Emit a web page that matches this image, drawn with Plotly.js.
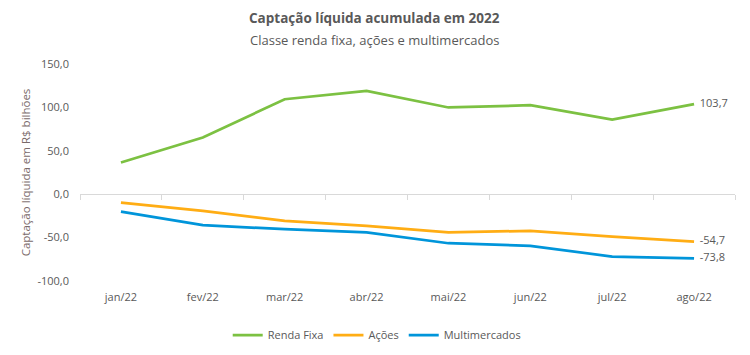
<!DOCTYPE html>
<html><head><meta charset="utf-8">
<script src="https://cdn.plot.ly/plotly-3.0.1.min.js"></script>
<style>body{margin:0;padding:0;background:#fff}#chart{width:750px;height:355px}</style>
</head><body><div id="chart"></div>
<script>
const months = ["jan/22","fev/22","mar/22","abr/22","mai/22","jun/22","jul/22","ago/22"];
const rendaFixa = [36.5, 65.3, 109.4, 119.0, 99.9, 102.5, 86.0, 103.7];
const acoes = [-9.6, -19.2, -30.7, -36.5, -44.0, -42.2, -48.8, -54.7];
const multimercados = [-20.0, -35.7, -40.3, -44.0, -56.5, -59.5, -71.8, -73.8];
const yTickVals = [-100, -50, 0, 50, 100, 150];

const fmt = v => v.toFixed(1).replace('.', ',');
const lastLabel = arr => arr.map((v, i) => i === arr.length - 1 ? '\u00a0\u00a0' + fmt(v) : '');
const FONT = "Open Sans, Lato, sans-serif";
const GRAY = "#595959";

function series(name, y, color) {
  return {
    x: months, y: y, name: name, type: 'scatter', mode: 'lines+text',
    line: {color: color, width: 2.75},
    text: lastLabel(y), textposition: 'middle right',
    textfont: {family: FONT, size: 11, color: GRAY},
    cliponaxis: false, hoverinfo: 'x+y'
  };
}

const data = [
  series('Renda Fixa', rendaFixa, '#7CC142'),
  series('Ações', acoes, '#FFAD14'),
  series('Multimercados', multimercados, '#0095DA'),
  {x: months, y: [0], xaxis: 'x2', yaxis: 'y', type: 'scatter', mode: 'markers',
   marker: {opacity: 0}, showlegend: false, hoverinfo: 'skip'}
];

const yMin = -100, yMax = 150;
const layout = {
  width: 750, height: 355,
  margin: {l: 80, r: 15, t: 64, b: 74, autoexpand: false},
  paper_bgcolor: '#fff', plot_bgcolor: '#fff',
  font: {family: FONT, color: GRAY, size: 11},
  annotations: [
    {text: '<b>Captação líquida acumulada em 2022</b>', xref: 'paper', yref: 'paper',
     x: 0.45, y: 1, yshift: 46, xanchor: 'center', yanchor: 'middle', showarrow: false,
     font: {family: FONT, size: 13.5, color: GRAY}},
    {text: 'Classe renda fixa, ações e multimercados', xref: 'paper', yref: 'paper',
     x: 0.45, y: 1, yshift: 24, xanchor: 'center', yanchor: 'middle', showarrow: false,
     font: {family: FONT, size: 13, color: GRAY}}
  ],
  xaxis: {
    type: 'category', showline: false, showgrid: false, zeroline: false,
    ticks: '', tickfont: {family: FONT, size: 11, color: GRAY}, ticklabelstandoff: 8,
    range: [-0.5, 7.5], fixedrange: true
  },
  xaxis2: {
    type: 'category', overlaying: 'x', matches: 'x', anchor: 'free',
    position: (0 - yMin) / (yMax - yMin),
    showline: true, linecolor: '#D9D9D9', linewidth: 1,
    ticks: 'outside', ticklen: 5, tickcolor: '#D9D9D9', tickson: 'boundaries',
    showticklabels: false, showgrid: false, zeroline: false
  },
  yaxis: {
    range: [yMin, yMax], tickvals: yTickVals, ticktext: yTickVals.map(fmt),
    showgrid: false, zeroline: false, showline: false, ticks: '',
    tickfont: {family: FONT, size: 11, color: GRAY}, ticklabelstandoff: 10,
    title: {text: 'Captação líquida em R$ bilhões', standoff: 4,
            font: {family: FONT, size: 11.5, color: '#7a6a6a'}}
  },
  showlegend: true,
  legend: {orientation: 'h', x: 0.453, xanchor: 'center', yref: 'container', y: 0.056, yanchor: 'middle',
           font: {family: FONT, size: 11, color: GRAY}, itemwidth: 30, tracegroupgap: 0}
};

Plotly.newPlot('chart', data, layout, {displayModeBar: false, staticPlot: true});
</script></body></html>
